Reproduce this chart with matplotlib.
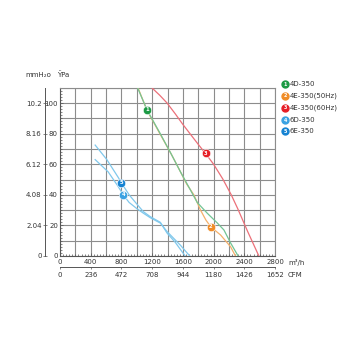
import matplotlib.pyplot as plt
from matplotlib.ticker import MultipleLocator

plt.rcParams['font.family'] = ['DejaVu Sans']

# оси: расход (м3/ч, CFM) и давление (Па, мм вод. ст.)
flow_ticks = [0, 400, 800, 1200, 1600, 2000, 2400, 2800]
cfm_labels = ['0', '236', '472', '708', '944', '1180', '1426', '1652']
pa_ticks = [0, 20, 40, 60, 80, 100]
mm_labels = ['0', '2.04', '4.08', '6.12', '8.16', '10.2']

# характеристики вентиляторов
q_4d = [1010, 1133, 1300, 1450, 1569, 1700, 1787, 1917, 2048, 2135, 2222, 2320]
p_4d = [110, 95.5, 80.5, 66.5, 55, 43, 35, 28, 21.6, 17, 8.5, 0]

q_4e50 = [1015, 1135, 1300, 1450, 1569, 1650, 1743, 1830, 1900, 1965, 2092, 2222, 2285]
p_4e50 = [110, 95, 80, 66.5, 55, 47, 40, 30, 23.5, 19, 13.7, 6, 0]

q_4e60 = [1195, 1300, 1394, 1500, 1600, 1700, 1800, 1895, 2000, 2118, 2230, 2314, 2444, 2590]
p_4e60 = [110, 105, 100, 93, 86, 79.5, 73, 67, 60, 50.5, 40, 31, 16, 0]

q_6d = [458, 627, 750, 824, 900, 1000, 1085, 1176, 1307, 1394, 1569, 1690]
p_6d = [63, 55, 46, 40, 35, 31, 28, 25, 21.5, 16, 7, 0]

q_6e = [458, 610, 763, 797, 900, 1000, 1085, 1176, 1307, 1394, 1500, 1630]
p_6e = [72.5, 63, 51, 48, 40, 34, 29, 25.7, 22, 15, 9, 0]

names = ['4D-350', '4E-350(50Hz)', '4E-350(60Hz)', '6D-350', '6E-350']
line_colors = ['#72c494', '#f4b06a', '#ec7079', '#80c8ec', '#80c8ec']
mark_colors = ['#1c9a44', '#f08c26', '#e61e26', '#3aa2e2', '#1683d2']
mark_q = [1133, 1965, 1895, 824, 797]
mark_p = [95.5, 19, 67, 40, 48]
curves = [(q_4d, p_4d), (q_4e50, p_4e50), (q_4e60, p_4e60), (q_6d, p_6d), (q_6e, p_6e)]
# порядок отрисовки: зелёная поверх оранжевой
draw_order = [1, 0, 2, 3, 4]

W = 350.0
fig = plt.figure(figsize=(3.5, 3.5), dpi=100)
ax = fig.add_axes([60 / W, (W - 256) / W, 215 / W, (256 - 87.7) / W])
ax.set_xlim(0, 2800)
ax.set_ylim(0, 110)

# сетка
for x in range(0, 2801, 200):
    ax.axvline(x, color='#8c8c8c', lw=0.8, zorder=1)
for y in range(0, 111, 10):
    ax.axhline(y, color='#8c8c8c', lw=0.8, zorder=1)

for i in draw_order:
    q, p = curves[i]
    ax.plot(q, p, color=line_colors[i], lw=0.9, zorder=3)

for i in range(5):
    ax.plot(mark_q[i], mark_p[i], 'o', ms=6, color=mark_colors[i],
            mec='white', mew=0.4, zorder=5)
    ax.text(mark_q[i], mark_p[i], str(i + 1), color='white', fontsize=3.8,
            fontweight='bold', ha='center', va='center', zorder=6)

for s in ax.spines.values():
    s.set_color('#8c8c8c')
    s.set_linewidth(0.8)
ax.spines['left'].set_color('#555555')
ax.spines['bottom'].set_color('#555555')

ax.set_xticks(flow_ticks)
ax.set_yticks(pa_ticks)
ax.xaxis.set_minor_locator(MultipleLocator(40))
ax.yaxis.set_minor_locator(MultipleLocator(2))
ax.tick_params(which='both', direction='in', colors='#555555', width=0.5,
               labelsize=5, labelcolor='#333333')
ax.tick_params(which='major', length=2)
ax.tick_params(which='minor', length=1.5)
ax.tick_params(axis='y', pad=1.5)
ax.tick_params(axis='x', pad=1.8)
ax.tick_params(which='both', top=False, right=False)

# вторая шкала давления, мм вод. ст.
sec_y = ax.secondary_yaxis('left', functions=(lambda p: p * 0.102, lambda m: m / 0.102))
sec_y.spines['left'].set_position(('outward', 10.8))
sec_y.spines['left'].set_color('#555555')
sec_y.spines['left'].set_linewidth(0.7)
sec_y.set_yticks([v * 0.102 for v in pa_ticks], labels=mm_labels)
sec_y.tick_params(direction='inout', length=3, width=0.5, colors='#555555',
                  labelsize=5, labelcolor='#333333', pad=1)

# вторая шкала расхода, CFM
sec_x = ax.secondary_xaxis('bottom', functions=(lambda q: q * 0.59, lambda c: c / 0.59))
sec_x.spines['bottom'].set_position(('outward', 7.9))
sec_x.spines['bottom'].set_color('#555555')
sec_x.spines['bottom'].set_linewidth(0.7)
sec_x.set_xticks([v * 0.59 for v in flow_ticks], labels=cfm_labels)
sec_x.tick_params(direction='out', length=1.5, width=0.5, colors='#555555',
                  labelsize=5, labelcolor='#333333', pad=2.2)

fig.text(38 / W, 1 - 75 / W, 'mmH₂o', fontsize=5, color='#333333', ha='center', va='center')
fig.text(63 / W, 1 - 75 / W, 'ŸPa', fontsize=5, color='#333333', ha='center', va='center')
fig.text(288 / W, 1 - 262 / W, 'm³/h', fontsize=5, color='#333333', ha='left', va='center')
fig.text(288 / W, 1 - 275 / W, 'CFM', fontsize=5, color='#333333', ha='left', va='center')

# легенда
leg_y = [84, 96, 108, 120, 131]
for i, name in enumerate(names):
    y = 1 - leg_y[i] / W
    fig.lines.append(plt.Line2D([285 / W], [y], marker='o', ms=5, color=mark_colors[i],
                                transform=fig.transFigure))
    fig.text(285 / W, y, str(i + 1), color='white', fontsize=3.5, fontweight='bold',
             ha='center', va='center')
    fig.text(290 / W, y, name, fontsize=5, color='#333333', ha='left', va='center')

fig.savefig('out.png', dpi=100)
